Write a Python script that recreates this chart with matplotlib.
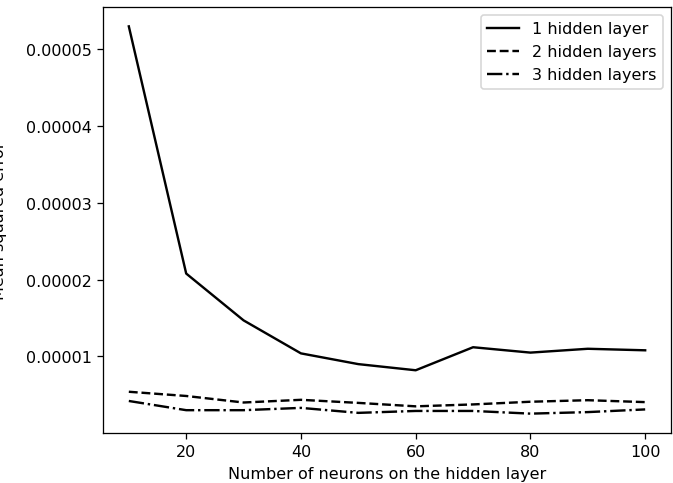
import matplotlib
matplotlib.use('Agg')
import matplotlib.pyplot as plt

neurons = [10, 20, 30, 40, 50, 60, 70, 80, 90, 100]
mse_1_layer = [5.30e-5, 2.08e-5, 1.47e-5, 1.04e-5, 0.90e-5, 0.82e-5, 1.12e-5, 1.05e-5, 1.10e-5, 1.08e-5]
mse_2_layers = [0.54e-5, 0.485e-5, 0.40e-5, 0.435e-5, 0.395e-5, 0.35e-5, 0.375e-5, 0.41e-5, 0.43e-5, 0.405e-5]
mse_3_layers = [0.42e-5, 0.30e-5, 0.30e-5, 0.33e-5, 0.265e-5, 0.29e-5, 0.29e-5, 0.255e-5, 0.275e-5, 0.31e-5]

dpi = 115
fig = plt.figure(figsize=(673 / dpi, 484 / dpi), dpi=dpi)
ax = fig.add_axes([103 / 673, 50 / 484, 568 / 673, 426 / 484])

ax.plot(neurons, mse_1_layer, color='black', linestyle='-', label='1 hidden layer')
ax.plot(neurons, mse_2_layers, color='black', linestyle='--', label='2 hidden layers')
ax.plot(neurons, mse_3_layers, color='black', linestyle='-.', label='3 hidden layers')

ax.set_xlabel('Number of neurons on the hidden layer')
ax.set_ylabel('Mean squared error', labelpad=12)
ax.set_yticks([1e-5, 2e-5, 3e-5, 4e-5, 5e-5])
ax.set_yticklabels(['0.00001', '0.00002', '0.00003', '0.00004', '0.00005'])
ax.set_xticks([20, 40, 60, 80, 100])

ax.legend(loc='upper right')

fig.savefig('out.png', dpi=dpi)
